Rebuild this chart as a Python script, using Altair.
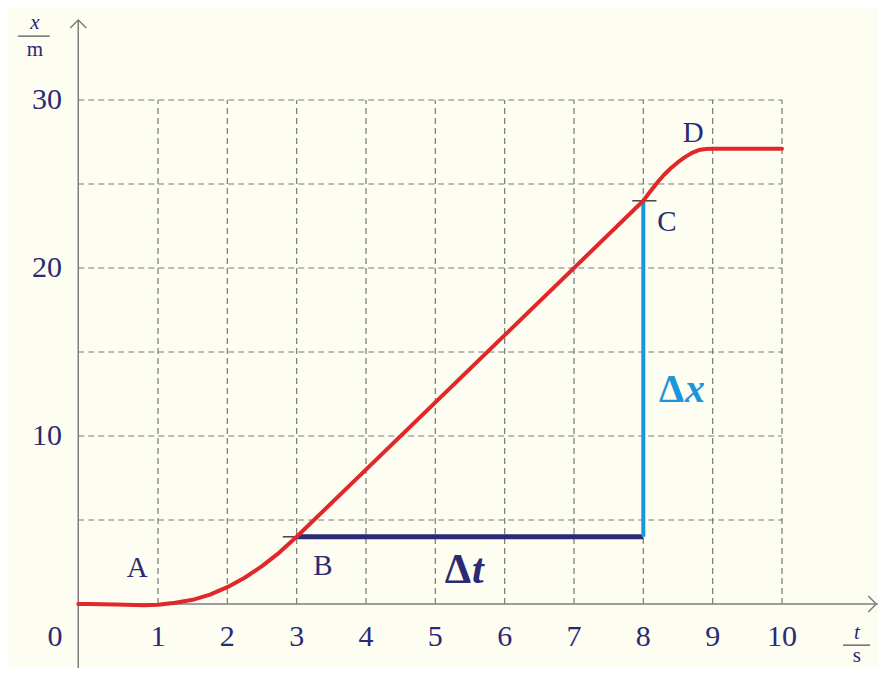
import altair as alt
import pandas as pd

# ---- data ----
curve_t = [-0.15, 0, 0.4, 0.8, 1.0, 1.25, 1.5, 1.75, 2, 2.25, 2.5, 2.75, 3, 8, 8.1, 8.2, 8.3, 8.4, 8.5, 8.6, 8.7, 8.8, 8.9, 9, 9.5, 10]
curve_x = [0, 0, -0.03, -0.07, -0.04, 0.07, 0.25, 0.56, 1.0, 1.56, 2.25, 3.06, 4, 24, 24.55, 25.08, 25.55, 25.95, 26.3, 26.6, 26.85, 27.02, 27.08, 27.1, 27.1, 27.1]

x_ticks = [1, 2, 3, 4, 5, 6, 7, 8, 9, 10]
y_ticks = [10, 20, 30]
y_grid = [5, 10, 15, 20, 25, 30]

point_names = ["A", "B", "C", "D"]
point_t = [0.70, 3.38, 8.34, 8.72]
point_x = [2.14, 2.26, 22.74, 28.04]

B = (3, 4)
C = (8, 24)
D = (9, 27.1)

# ---- layout constants ----
W, H = 870, 660
X_DOM = [-1.1635, 11.385]
Y_DOM = [-3.81, 35.476]
AX0 = -0.15  # position of vertical axis line
NAVY = "#2B2A72"
RED = "#E0282A"
BLUE = "#1B96DC"
GRID = "#7a7a7a"
AXC = "#7c7c7c"
FONT = "Liberation Serif, Times New Roman, serif"
BG = "#FDFDF1"

xs = alt.Scale(domain=X_DOM, nice=False, zero=False)
ys = alt.Scale(domain=Y_DOM, nice=False, zero=False)


def X(f="t"):
    return alt.X(f"{f}:Q", scale=xs, axis=None)


def Y(f="y"):
    return alt.Y(f"{f}:Q", scale=ys, axis=None)


def txt(df, **kw):
    base = dict(font=FONT, fontSize=30, color=NAVY, baseline="middle", align="center")
    base.update(kw)
    return alt.Chart(df).mark_text(**base).encode(x=X(), y=Y(), text="s:N")


# grid
hgrid = alt.Chart(pd.DataFrame({"y": y_grid, "t": AX0, "t2": 10})).mark_rule(
    color=GRID, strokeWidth=1.2, strokeDash=[6, 4]
).encode(x=X(), x2="t2:Q", y=Y())

vgrid = alt.Chart(pd.DataFrame({"t": x_ticks, "y": 0, "y2": 30})).mark_rule(
    color=GRID, strokeWidth=1.2, strokeDash=[6, 4]
).encode(x=X(), y=Y(), y2="y2:Q")

# axes
xaxis = alt.Chart(pd.DataFrame({"t": [AX0], "t2": [11.38], "y": [0]})).mark_rule(
    color=AXC, strokeWidth=1.5
).encode(x=X(), x2="t2:Q", y=Y())
yaxis = alt.Chart(pd.DataFrame({"t": [AX0], "y": [Y_DOM[0]], "y2": [34.76]})).mark_rule(
    color=AXC, strokeWidth=1.5
).encode(x=X(), y=Y(), y2="y2:Q")

arrow_up = alt.Chart(pd.DataFrame({"t": [AX0], "y": [34.76]})).mark_point(
    shape="M -1 1 L 0 0 L 1 1", filled=False, color=AXC, strokeWidth=1.5, size=260, opacity=1
).encode(x=X(), y=Y())
arrow_right = alt.Chart(pd.DataFrame({"t": [11.36], "y": [0]})).mark_point(
    shape="M -1 -1 L 0 0 L -1 1", filled=False, color=AXC, strokeWidth=1.5, size=260, opacity=1
).encode(x=X(), y=Y())

# delta lines
dt_line = alt.Chart(pd.DataFrame({"t": [B[0]], "t2": [C[0]], "y": [B[1]]})).mark_rule(
    color=NAVY, strokeWidth=5
).encode(x=X(), x2="t2:Q", y=Y())
dx_line = alt.Chart(pd.DataFrame({"t": [C[0]], "y": [B[1]], "y2": [C[1]]})).mark_rule(
    color=BLUE, strokeWidth=4
).encode(x=X(), y=Y(), y2="y2:Q")

# small ticks at B, C, D
ticks_df = pd.DataFrame({
    "t": [B[0] - 0.2, C[0] - 0.16, D[0] - 0.18],
    "t2": [B[0], C[0] + 0.19, D[0] + 0.22],
    "y": [B[1], C[1], D[1]],
    "c": ["#444444", "#444444", NAVY],
})
ticks = alt.Chart(ticks_df).mark_rule(strokeWidth=1.5).encode(
    x=X(), x2="t2:Q", y=Y(), color=alt.Color("c:N", scale=None)
)

# curve
curve = alt.Chart(pd.DataFrame({"t": curve_t, "y": curve_x})).mark_line(
    color=RED, strokeWidth=4, interpolate="linear", strokeCap="round", strokeJoin="round"
).encode(x=X(), y=Y())

# tick labels
xlab = txt(pd.DataFrame({"t": x_ticks, "y": -1.96, "s": [str(v) for v in x_ticks]}))
zero_lab = txt(pd.DataFrame({"t": [-0.486], "y": [-1.96], "s": ["0"]}))
ylab = txt(pd.DataFrame({"y": y_ticks, "t": -0.385, "s": [str(v) for v in y_ticks]}), align="right")

# axis titles as fractions
num_txt = txt(pd.DataFrame({"t": [-0.774, 11.08], "y": [34.6, -1.75], "s": ["x", "t"]}),
              fontSize=21, fontStyle="italic")
den_txt = txt(pd.DataFrame({"t": [-0.774, 11.08], "y": [32.95, -3.1], "s": ["m", "s"]}),
              fontSize=21)
frac_bar = alt.Chart(pd.DataFrame({"t": [-1.02, 10.88], "t2": [-0.56, 11.27], "y": [33.8, -2.45]})).mark_rule(
    color="#555555", strokeWidth=1.3
).encode(x=X(), x2="t2:Q", y=Y())

# point labels
pts = txt(pd.DataFrame({"t": point_t, "y": point_x, "s": point_names}), fontSize=29)

# Δt and Δx: upright bold Δ, italic letter
dt_d = txt(pd.DataFrame({"t": [5.515], "y": [2.02], "s": ["Δ"]}), fontSize=42, fontWeight="bold", align="right")
dt_l = txt(pd.DataFrame({"t": [5.515], "y": [2.02], "s": ["t"]}), fontSize=42, fontWeight="bold",
           fontStyle="italic", align="left", dx=1)
dx_d = txt(pd.DataFrame({"t": [8.587], "y": [12.74], "s": ["Δ"]}), fontSize=40, color=BLUE,
           fontWeight="bold", align="right")
dx_l = txt(pd.DataFrame({"t": [8.587], "y": [12.74], "s": ["x"]}), fontSize=40, color=BLUE,
           fontWeight="bold", fontStyle="italic", align="left", dx=1)

chart = alt.layer(
    hgrid, vgrid, xaxis, yaxis, arrow_up, arrow_right, dt_line, dx_line, ticks, curve,
    xlab, zero_lab, ylab, num_txt, den_txt, frac_bar, pts, dt_d, dt_l, dx_d, dx_l,
).properties(
    width=W, height=H, autosize=alt.AutoSizeParams(type="none"), padding=0, background=BG
).configure_view(stroke=None, clip=False)

chart.save("out.html", embed_options={"renderer": "svg", "actions": False})
